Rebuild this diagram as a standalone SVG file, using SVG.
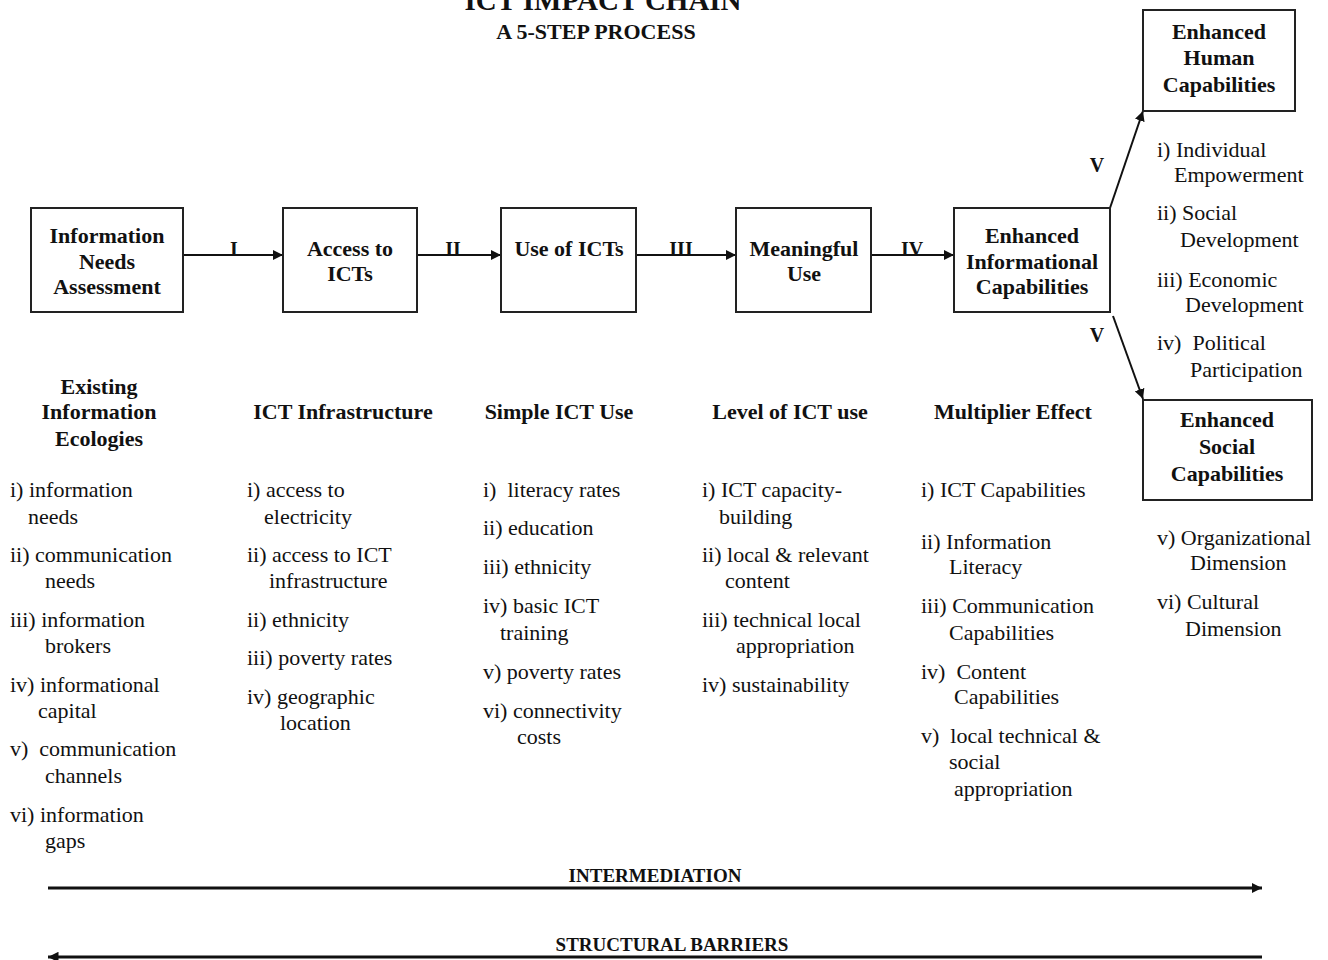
<svg xmlns="http://www.w3.org/2000/svg" width="1328" height="960" viewBox="0 0 1328 960">
<style>
.box{fill:#fff;stroke:#222;stroke-width:2}
.bt{font-family:"Liberation Serif","Times New Roman",serif;font-weight:bold;font-size:22px;fill:#111;text-anchor:middle}
.hd{font-family:"Liberation Serif","Times New Roman",serif;font-weight:bold;font-size:22px;fill:#111;text-anchor:middle}
.li{font-family:"Liberation Serif","Times New Roman",serif;font-size:22px;fill:#111;white-space:pre}
.lab{font-family:"Liberation Serif","Times New Roman",serif;font-weight:bold;font-size:20px;fill:#111;text-anchor:middle}
.ln{stroke:#111;stroke-width:2;fill:none}
.thick{stroke:#111;stroke-width:3;fill:none}
</style>
<defs>
<marker id="ah" viewBox="0 0 10 10" refX="10" refY="5" markerWidth="5" markerHeight="5" orient="auto" markerUnits="strokeWidth"><path d="M0,0 L10,5 L0,10 z" fill="#111"/></marker>
<marker id="ah2" viewBox="0 0 10 10" refX="10" refY="5" markerWidth="3.5" markerHeight="3.5" orient="auto" markerUnits="strokeWidth"><path d="M0,0 L10,5 L0,10 z" fill="#111"/></marker>
</defs>
<rect width="1328" height="960" fill="#fff"/>
<g id="title">
<text x="603" y="10" class="bt" style="font-size:29px">ICT IMPACT CHAIN</text>
<text x="596" y="39" class="bt" style="font-size:22px">A 5-STEP PROCESS</text>
</g>
<g id="connectors">
<line class="ln" x1="183" y1="255" x2="283" y2="255" marker-end="url(#ah)"/>
<line class="ln" x1="417" y1="255" x2="501" y2="255" marker-end="url(#ah)"/>
<line class="ln" x1="636" y1="255" x2="736" y2="255" marker-end="url(#ah)"/>
<line class="ln" x1="871" y1="255" x2="954" y2="255" marker-end="url(#ah)"/>
<line class="ln" x1="1110" y1="208" x2="1143" y2="111" marker-end="url(#ah)"/>
<line class="ln" x1="1113" y1="316" x2="1143" y2="399" marker-end="url(#ah)"/>
<text x="234" y="256" class="lab">I</text>
<text x="453" y="256" class="lab">II</text>
<text x="681" y="256" class="lab">III</text>
<text x="912" y="256" class="lab">IV</text>
<text x="1097" y="172" class="lab">V</text>
<text x="1097" y="342" class="lab">V</text>
<line class="thick" x1="48" y1="888" x2="1262" y2="888" marker-end="url(#ah2)"/>
<line class="thick" x1="1262" y1="957" x2="48" y2="957" marker-end="url(#ah2)"/>
<text x="655" y="882" class="lab" style="font-size:19px">INTERMEDIATION</text>
<text x="672" y="951" class="lab" style="font-size:19px">STRUCTURAL BARRIERS</text>
</g>
<g id="n1">
<rect class="box" x="31" y="208" width="152" height="104"/>
<text x="107" y="243" class="bt">Information</text>
<text x="107" y="269" class="bt">Needs</text>
<text x="107" y="294" class="bt">Assessment</text>
</g>
<g id="n2">
<rect class="box" x="283" y="208" width="134" height="104"/>
<text x="350" y="256" class="bt">Access to</text>
<text x="350" y="281" class="bt">ICTs</text>
</g>
<g id="n3">
<rect class="box" x="501" y="208" width="135" height="104"/>
<text x="569" y="256" class="bt">Use of ICTs</text>
</g>
<g id="n4">
<rect class="box" x="736" y="208" width="135" height="104"/>
<text x="804" y="256" class="bt">Meaningful</text>
<text x="804" y="281" class="bt">Use</text>
</g>
<g id="n5">
<rect class="box" x="954" y="208" width="156" height="104"/>
<text x="1032" y="243" class="bt">Enhanced</text>
<text x="1032" y="269" class="bt">Informational</text>
<text x="1032" y="294" class="bt">Capabilities</text>
</g>
<g id="n6">
<rect class="box" x="1143" y="10" width="152" height="101"/>
<text x="1219" y="39" class="bt">Enhanced</text>
<text x="1219" y="65" class="bt">Human</text>
<text x="1219" y="92" class="bt">Capabilities</text>
</g>
<g id="n7">
<rect class="box" x="1143" y="400" width="169" height="100"/>
<text x="1227" y="427" class="bt">Enhanced</text>
<text x="1227" y="454" class="bt">Social</text>
<text x="1227" y="481" class="bt">Capabilities</text>
</g>
<g id="col1">
<text x="99" y="394" class="hd">Existing</text>
<text x="99" y="419" class="hd">Information</text>
<text x="99" y="446" class="hd">Ecologies</text>
<text x="10" y="497" class="li">i) information</text>
<text x="28" y="524" class="li">needs</text>
<text x="10" y="562" class="li">ii) communication</text>
<text x="45" y="588" class="li">needs</text>
<text x="10" y="627" class="li">iii) information</text>
<text x="45" y="653" class="li">brokers</text>
<text x="10" y="692" class="li">iv) informational</text>
<text x="38" y="718" class="li">capital</text>
<text x="10" y="756" class="li" xml:space="preserve">v)  communication</text>
<text x="45" y="783" class="li">channels</text>
<text x="10" y="822" class="li">vi) information</text>
<text x="45" y="848" class="li">gaps</text>
</g>
<g id="col2">
<text x="343" y="419" class="hd">ICT Infrastructure</text>
<text x="247" y="497" class="li">i) access to</text>
<text x="264" y="524" class="li">electricity</text>
<text x="247" y="562" class="li">ii) access to ICT</text>
<text x="269" y="588" class="li">infrastructure</text>
<text x="247" y="627" class="li">ii) ethnicity</text>
<text x="247" y="665" class="li">iii) poverty rates</text>
<text x="247" y="704" class="li">iv) geographic</text>
<text x="280" y="730" class="li">location</text>
</g>
<g id="col3">
<text x="559" y="419" class="hd">Simple ICT Use</text>
<text x="483" y="497" class="li" xml:space="preserve">i)  literacy rates</text>
<text x="483" y="535" class="li">ii) education</text>
<text x="483" y="574" class="li">iii) ethnicity</text>
<text x="483" y="613" class="li">iv) basic ICT</text>
<text x="500" y="640" class="li">training</text>
<text x="483" y="679" class="li">v) poverty rates</text>
<text x="483" y="718" class="li">vi) connectivity</text>
<text x="517" y="744" class="li">costs</text>
</g>
<g id="col4">
<text x="790" y="419" class="hd">Level of ICT use</text>
<text x="702" y="497" class="li">i) ICT capacity-</text>
<text x="719" y="524" class="li">building</text>
<text x="702" y="562" class="li">ii) local &amp; relevant</text>
<text x="725" y="588" class="li">content</text>
<text x="702" y="627" class="li">iii) technical local</text>
<text x="736" y="653" class="li">appropriation</text>
<text x="702" y="692" class="li">iv) sustainability</text>
</g>
<g id="col5">
<text x="1013" y="419" class="hd">Multiplier Effect</text>
<text x="921" y="497" class="li">i) ICT Capabilities</text>
<text x="921" y="549" class="li">ii) Information</text>
<text x="949" y="574" class="li">Literacy</text>
<text x="921" y="613" class="li">iii) Communication</text>
<text x="949" y="640" class="li">Capabilities</text>
<text x="921" y="679" class="li" xml:space="preserve">iv)  Content</text>
<text x="954" y="704" class="li">Capabilities</text>
<text x="921" y="743" class="li" xml:space="preserve">v)  local technical &amp;</text>
<text x="949" y="769" class="li">social</text>
<text x="954" y="796" class="li">appropriation</text>
</g>
<g id="col6">
<text x="1157" y="157" class="li">i) Individual</text>
<text x="1174" y="182" class="li">Empowerment</text>
<text x="1157" y="220" class="li">ii) Social</text>
<text x="1180" y="247" class="li">Development</text>
<text x="1157" y="287" class="li">iii) Economic</text>
<text x="1185" y="312" class="li">Development</text>
<text x="1157" y="350" class="li" xml:space="preserve">iv)  Political</text>
<text x="1190" y="377" class="li">Participation</text>
<text x="1157" y="545" class="li">v) Organizational</text>
<text x="1190" y="570" class="li">Dimension</text>
<text x="1157" y="609" class="li">vi) Cultural</text>
<text x="1185" y="636" class="li">Dimension</text>
</g>
</svg>
